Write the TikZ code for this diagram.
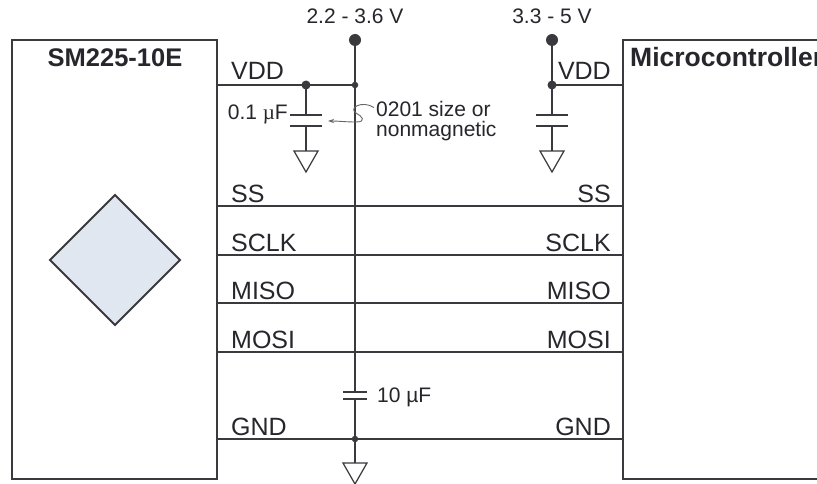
\documentclass[tikz,border=0pt]{standalone}
\usepackage{fontspec}
\setmainfont{Liberation Sans}
\newfontfamily\serifmu{Liberation Serif}
\usetikzlibrary{arrows.meta}
\definecolor{wire}{HTML}{3A3A3E}
\definecolor{txt}{HTML}{26262C}
\definecolor{chipfill}{HTML}{E1E7F1}
\tikzset{
  wireline/.style={draw=wire, line width=1.3pt},
  boxline/.style={draw=wire, line width=1.4pt},
  pinlbl/.style={text=txt, inner sep=0pt, font=\fontsize{25}{28}\selectfont},
  boldlbl/.style={text=txt, inner sep=0pt, font=\bfseries\fontsize{25.5}{28}\selectfont},
  smalllbl/.style={text=txt, inner sep=0pt, font=\fontsize{21}{24}\selectfont},
  bigdot/.style={circle, fill=wire, inner sep=0pt, minimum size=12pt},
  middot/.style={circle, fill=wire, inner sep=0pt, minimum size=9pt},
  smalldot/.style={circle, fill=wire, inner sep=0pt, minimum size=6.5pt},
  gndtri/.style={draw=wire, line width=1.2pt},
  plate/.style={draw=wire, line width=1.3pt},
  pics/gnd/.style={code={\draw[gndtri] (-12,0) -- (12,0) -- (0,21) -- cycle;}}
}
\begin{document}
\begin{tikzpicture}[x=1pt,y=-1pt]
\clip (0,0) rectangle (817,484);
\fill[white] (0,0) rectangle (817,484);

% boxes
\draw[boxline] (12,40) rectangle (217,479);
\draw[boxline] (623,40) rectangle (840,479);
\node[boldlbl, anchor=base] (smname) at (115,67) {SM225-10E};
\node[boldlbl, anchor=base west, font=\bfseries\fontsize{26.5}{28}\selectfont] (mcname) at (630,67) {Microcontroller};

% sensor diamond
\draw[draw=wire, line width=2pt, fill=chipfill, line join=miter] (115,195) -- (180,260) -- (115,325) -- (50,260) -- cycle;

% coordinates
\coordinate (lvdd) at (217,85);
\coordinate (rvdd) at (623,85);
\coordinate (jc1) at (306,85);
\coordinate (jmain) at (355,85);
\coordinate (jr) at (552,85);
\coordinate (jgnd) at (355,439);

% power sources
\node[bigdot] (src1) at (355,40) {};
\node[bigdot] (src2) at (552,40) {};
\node[smalllbl, anchor=base] (v1) at (355,24) {2.2 - 3.6 V};
\node[smalllbl, anchor=base] (v2) at (552,24) {3.3 - 5 V};

% VDD lines
\draw[wireline] (lvdd) -- (jmain);
\draw[wireline] (jr) -- (rvdd);
\node[pinlbl, anchor=base west] (lvddl) at (231,80) {VDD};
\node[pinlbl, anchor=base east] (rvddl) at (611,80) {VDD};

% 0.1uF capacitor
\coordinate (c1a) at (306,115);
\coordinate (c1b) at (306,126);
\coordinate (g1) at (306,151);
\draw[wireline] (jc1) -- (c1a);
\draw[plate] (290,115) -- (322,115);
\draw[plate] (290,126) -- (322,126);
\draw[wireline] (c1b) -- (g1);
\pic at (g1) {gnd};
\node[smalllbl, anchor=base east] (c1l) at (288,120) {0.1 {\serifmu µ}F};

% right capacitor
\coordinate (c2a) at (552,115);
\coordinate (c2b) at (552,126);
\coordinate (g2) at (552,151);
\draw[wireline] (src2) -- (c2a);
\draw[plate] (536,115) -- (568,115);
\draw[plate] (536,126) -- (568,126);
\draw[wireline] (c2b) -- (g2);
\pic at (g2) {gnd};

% main supply rail and 10uF
\coordinate (c3a) at (355,392);
\coordinate (c3b) at (355,399);
\coordinate (g3) at (355,463);
\draw[wireline] (src1) -- (c3a);
\draw[plate] (343,392) -- (367,392);
\draw[plate] (343,399) -- (367,399);
\draw[wireline] (c3b) -- (g3);
\pic at (g3) {gnd};
\node[smalllbl, anchor=base west] (c3l) at (377,402) {10 µF};

% signal lines
\foreach \nm/\yy in {SS/206, SCLK/255, MISO/303, MOSI/352, GND/439}{
  \coordinate (l\nm) at (217,\yy);
  \coordinate (r\nm) at (623,\yy);
  \draw[wireline] (l\nm) -- (r\nm);
  \node[pinlbl, anchor=base west] (ll\nm) at (231,\yy-4) {\nm};
  \node[pinlbl, anchor=base east] (rl\nm) at (611,\yy-4) {\nm};
}

% junction dots
\node[middot] (d1) at (jc1) {};
\node[smalldot] (d2) at (jmain) {};
\node[middot] (d3) at (jr) {};
\node[smalldot] (d4) at (jgnd) {};

% annotation
\node[smalllbl, anchor=base west] (note1) at (376,117) {0201 size or};
\node[smalllbl, anchor=base west] (note2) at (376,137) {nonmagnetic};
\draw[draw=gray!80!black, line width=0.9pt, -{Stealth[length=6pt,width=4pt]}]
  (note1.west) ++(-2,-2) coordinate (n0)
  (n0) .. controls (362,100) and (348,108) .. (356,113)
       .. controls (362,116) and (367,122) .. (356,122)
       .. controls (346,122) and (338,121) .. (328,121);
\end{tikzpicture}
\end{document}
